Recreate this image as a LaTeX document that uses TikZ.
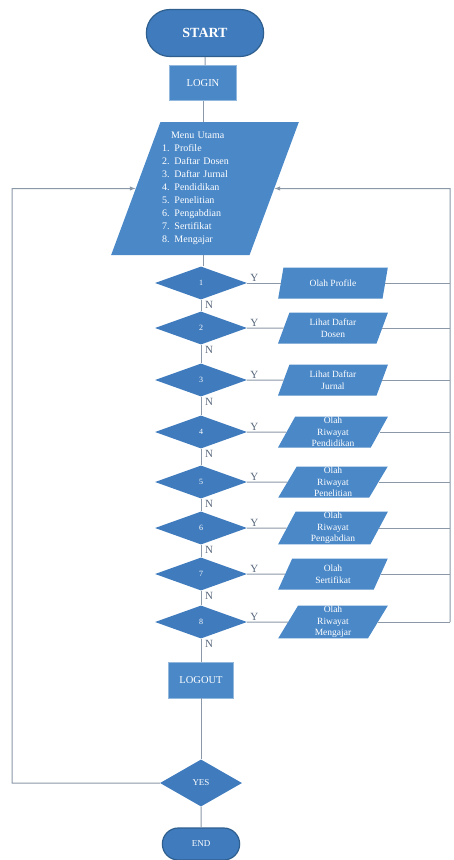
\documentclass[tikz,border=0pt]{standalone}
\usepackage{fontspec}
\setmainfont{Liberation Serif}
\usepackage{tikz}
\usetikzlibrary{shapes.geometric}
\usetikzlibrary{shapes.misc}
\usetikzlibrary{positioning}
\usetikzlibrary{arrows}
\tikzset{>=latex}

\definecolor{flowblue}{HTML}{4A88C8}
\definecolor{decblue}{HTML}{3F7BBD}
\definecolor{edgeblue}{HTML}{2F5F8F}
\definecolor{linegray}{HTML}{8A98A8}
\definecolor{lblgray}{HTML}{56667A}

\tikzset{
	terminal/.style={rounded rectangle, fill=decblue, draw=edgeblue, line width=1.2pt,
		text=white, font=\bfseries\fontsize{14}{14}\selectfont},
	procbox/.style={rectangle, fill=flowblue, draw=flowblue!60!white, line width=0.8pt,
		text=white, font=\fontsize{10.5}{10.5}\selectfont},
	iobox/.style={trapezium, trapezium left angle=72, trapezium right angle=108,
		trapezium stretches=true, fill=flowblue, text=white, inner sep=0.5pt,
		align=center, minimum width=110pt, minimum height=31pt,
		font=\fontsize{9.5}{11.5}\selectfont},
	decision/.style={diamond, fill=decblue, text=white, inner sep=0pt,
		minimum width=92pt, minimum height=33pt, font=\fontsize{8}{8}\selectfont},
	conn/.style={draw=linegray, line width=1pt},
	yn/.style={text=lblgray, inner sep=1pt, font=\fontsize{11}{11}\selectfont}
}

\begin{document}
\begin{tikzpicture}[x=1pt, y=-1pt]
	\useasboundingbox (0,0) rectangle (454,860);

	\coordinate (rtop) at (450,188.5);
	\coordinate (rbot) at (450,622);
	\coordinate (ltop) at (12,188.5);

	% Awal
	\node[terminal, minimum width=124pt, minimum height=47pt] (start) at (205,33) {START};
	\node[procbox, minimum width=67pt, minimum height=35pt] (login) at (203,83) {LOGIN};

	% Menu
	\node[trapezium, trapezium left angle=67, trapezium right angle=113,
		trapezium stretches=true, minimum width=188pt, minimum height=133pt,
		fill=flowblue, text=white, inner sep=1pt, text width=86pt, align=left,
		font=\fontsize{10}{13}\selectfont] (menu) at (205,188.5)
		{\hspace*{9pt}Menu Utama\\
		1. Profile\\
		2. Daftar Dosen\\
		3. Daftar Jurnal\\
		4. Pendidikan\\
		5. Penelitian\\
		6. Pengabdian\\
		7. Sertifikat\\
		8. Mengajar};

	% Pilihan
	\foreach \i/\yy/\txt in {1/283/{Olah Profile}, 2/328/{Lihat Daftar\\Dosen},
		3/380/{Lihat Daftar\\Jurnal}, 4/432/{Olah\\Riwayat\\Pendidikan},
		5/482/{Olah\\Riwayat\\Penelitian}, 6/528/{Olah\\Riwayat\\Pengabdian},
		7/574/{Olah\\Sertifikat}, 8/622/{Olah\\Riwayat\\Mengajar}}
	{
	\node[decision] (d\i) at (201,\yy) {\i};
	\node[iobox] (p\i) at (333,\yy) {\txt};
	}

	% Akhir
	\node[procbox, minimum width=65pt, minimum height=36pt] (logout) at (201,680) {LOGOUT};
	\node[decision, minimum width=82pt, minimum height=47pt,
		font=\fontsize{9}{9}\selectfont] (yes) at (201,783) {YES};
	\node[terminal, minimum width=84pt, minimum height=32pt,
		font=\fontsize{9}{9}\selectfont] (end) at (201,844) {END};

	% Garis utama
	\draw[conn] (start) -- (start |- login.north);
	\draw[conn] (login) -- (login |- menu.north);
	\draw[conn] (login |- menu.south) -- (login |- d1.north);
	\foreach \i in {1,...,7}
	{
	\pgfmathtruncatemacro{\j}{\i+1}
	\draw[conn] (d\i) -- (d\j);
	}
	\draw[conn] (d8) -- (logout);
	\draw[conn] (logout) -- (yes);
	\draw[conn] (yes) -- (end);

	% Cabang Y
	\foreach \i in {1,...,8}
	{
	\draw[conn] (d\i.east) -- (p\i.west);
	\draw[conn] (p\i.east) -- (p\i.east -| rtop);
	\node[yn, anchor=south west] at ([xshift=2pt]d\i.east) {Y};
	\node[yn, below right=0pt and 3pt of d\i.south] {N};
	}

	% Kembali ke menu
	\draw[conn, ->] (rbot) -- (rtop) -- (menu);
	\draw[conn, ->] (yes.west) -| (ltop) -- (menu);

\end{tikzpicture}
\end{document}
